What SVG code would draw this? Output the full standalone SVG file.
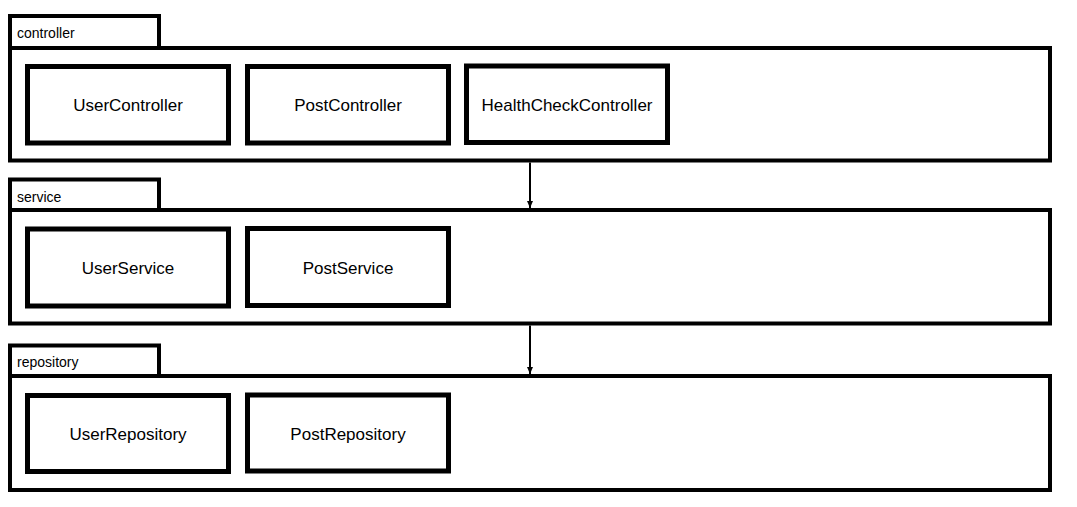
<svg xmlns="http://www.w3.org/2000/svg" width="1077" height="507" viewBox="0 0 1077 507">
  <style>
    .tab { fill: #fff; stroke: #000; stroke-width: 4; }
    .layer { fill: #fff; stroke: #000; stroke-width: 4; }
    .node { fill: #fff; stroke: #000; stroke-width: 5; }
    .tab-label { font-family: "Liberation Sans", Arial, sans-serif; font-size: 14px; fill: #000; }
    .node-label { font-family: "Liberation Sans", Arial, sans-serif; font-size: 17px; fill: #000; text-anchor: middle; }
    .edge { stroke: #000; stroke-width: 2; fill: none; }
  </style>
  <defs>
    <marker id="arrow" markerUnits="userSpaceOnUse" markerWidth="8" markerHeight="8" refX="7" refY="4" orient="auto">
      <path d="M0,1 L7,4 L0,7 Z" fill="#000"/>
    </marker>
  </defs>

  <rect width="1077" height="507" fill="#fff"/>

  <!-- controller layer -->
  <g id="controller">
    <rect class="tab" x="10" y="16" width="149" height="32"/>
    <text class="tab-label" x="17" y="38">controller</text>
    <rect class="layer" x="10" y="48" width="1040" height="112.5"/>
    <g id="UserController">
      <rect class="node" x="27.5" y="66.5" width="201" height="76.5"/>
      <text class="node-label" x="128" y="111">UserController</text>
    </g>
    <g id="PostController">
      <rect class="node" x="247.5" y="66.5" width="201" height="76.5"/>
      <text class="node-label" x="348" y="111">PostController</text>
    </g>
    <g id="HealthCheckController">
      <rect class="node" x="466.5" y="66" width="201" height="76.5"/>
      <text class="node-label" x="567" y="111">HealthCheckController</text>
    </g>
  </g>

  <!-- service layer -->
  <g id="service">
    <rect class="tab" x="10" y="179.5" width="149" height="30.5"/>
    <text class="tab-label" x="17" y="201.5">service</text>
    <rect class="layer" x="10" y="210" width="1040" height="113.5"/>
    <g id="UserService">
      <rect class="node" x="27.5" y="229" width="201" height="77"/>
      <text class="node-label" x="128" y="274">UserService</text>
    </g>
    <g id="PostService">
      <rect class="node" x="247.5" y="228.5" width="201" height="77"/>
      <text class="node-label" x="348" y="273.5">PostService</text>
    </g>
  </g>

  <!-- repository layer -->
  <g id="repository">
    <rect class="tab" x="10" y="345.5" width="149" height="30.5"/>
    <text class="tab-label" x="17" y="367">repository</text>
    <rect class="layer" x="10" y="376" width="1040" height="114"/>
    <g id="UserRepository">
      <rect class="node" x="27.5" y="395.5" width="201" height="76"/>
      <text class="node-label" x="128" y="440">UserRepository</text>
    </g>
    <g id="PostRepository">
      <rect class="node" x="247.5" y="395" width="201" height="76"/>
      <text class="node-label" x="348" y="439.5">PostRepository</text>
    </g>
  </g>

  <!-- layer dependencies -->
  <g id="connectors">
    <line class="edge" x1="530" y1="162.5" x2="530" y2="208" marker-end="url(#arrow)"/>
    <line class="edge" x1="530" y1="325.5" x2="530" y2="374" marker-end="url(#arrow)"/>
  </g>
</svg>
